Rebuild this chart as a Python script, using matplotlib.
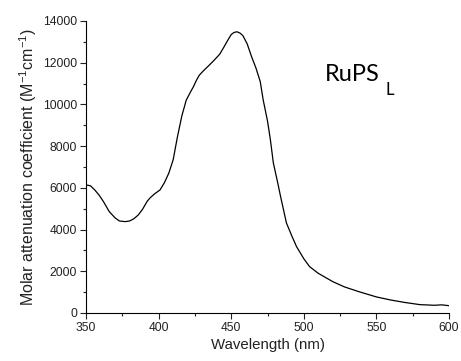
import matplotlib
matplotlib.use("Agg")
import matplotlib.pyplot as plt
from matplotlib.ticker import MultipleLocator

plt.rcParams["font.family"] = ["Liberation Sans", "DejaVu Sans"]

# absorption spectrum
wavelength = [350, 353, 356, 359, 362, 366, 370, 373, 377, 380, 383, 386, 389,
              392, 394, 397, 401, 404, 407, 410, 413, 416, 419, 422, 424, 426,
              428, 431, 435, 438, 440, 442, 445, 447, 450, 452, 454, 456, 458,
              461, 464, 467, 470, 472, 475, 477, 479, 482, 484, 488, 492, 495,
              500, 504, 510, 516, 520, 528, 538, 550, 560, 570, 580, 590, 595, 600]
epsilon = [6140, 6100, 5900, 5650, 5340, 4860, 4560, 4410, 4380, 4410, 4520, 4700, 4980,
           5340, 5510, 5700, 5900, 6250, 6700, 7340, 8460, 9450, 10200, 10600, 10850, 11150,
           11400, 11620, 11890, 12100, 12250, 12400, 12750, 13000, 13350, 13450, 13480, 13420, 13300,
           12900, 12290, 11750, 11090, 10220, 9200, 8290, 7200, 6250, 5580, 4320, 3650, 3180,
           2600, 2220, 1900, 1660, 1500, 1250, 1020, 770, 620, 500, 400, 370, 390, 350]

fig = plt.figure(figsize=(4.61, 3.61), dpi=100)
ax = fig.add_axes([0.1866, 0.133, 0.7874, 0.809])
ax.plot(wavelength, epsilon, color="black", lw=0.9)

ax.set_xlim(350, 600)
ax.set_ylim(0, 14000)
ax.xaxis.set_major_locator(MultipleLocator(50))
ax.xaxis.set_minor_locator(MultipleLocator(25))
ax.yaxis.set_major_locator(MultipleLocator(2000))
ax.yaxis.set_minor_locator(MultipleLocator(1000))
ax.tick_params(which="both", direction="out", labelsize=8.7, width=0.8, colors="#222222")
ax.tick_params(which="major", length=4, pad=2.5)
ax.tick_params(which="minor", length=2.5)
for side in ("top", "right"):
    ax.spines[side].set_visible(False)
ax.spines["left"].set_linewidth(0.8)
ax.spines["bottom"].set_linewidth(0.8)

ax.set_xlabel("Wavelength (nm)", fontsize=10.8, labelpad=3, color="#222222")
ax.set_ylabel("Molar attenuation coefficient (M$^{\\mathregular{-1}}$cm$^{\\mathregular{-1}}$)",
              fontsize=11.5, labelpad=3, color="#222222")

fig.text(0.705, 0.776, "RuPS", fontsize=17, family=["Lato", "DejaVu Sans"],
         va="baseline", ha="left")
fig.text(0.836, 0.737, "L", fontsize=12, family=["Lato", "DejaVu Sans"],
         va="baseline", ha="left")

fig.savefig("out.png", dpi=100)
